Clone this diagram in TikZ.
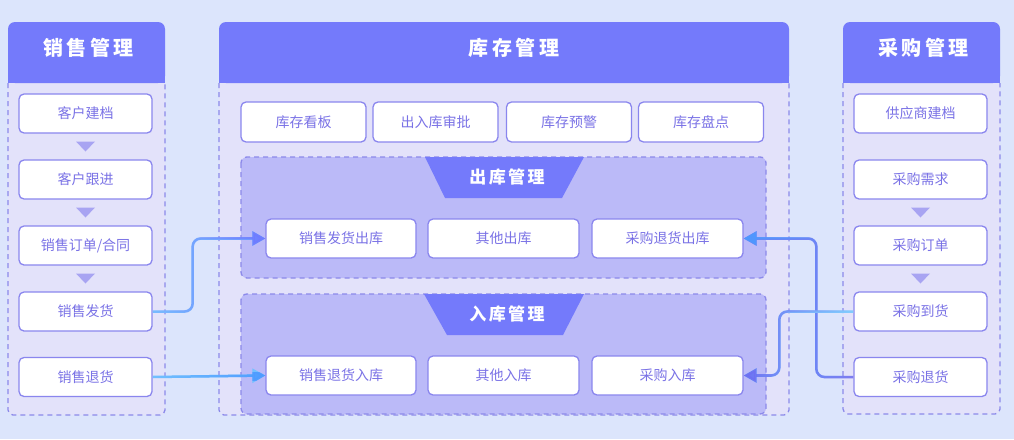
\documentclass[tikz,border=0pt]{standalone}
\usepackage{fontspec}
\newfontfamily\cjk{Noto Sans CJK SC}
\newfontfamily\cjkhead[LetterSpace=18]{Noto Sans CJK SC}
\newfontfamily\cjksub[LetterSpace=14]{Noto Sans CJK SC}
\usetikzlibrary{arrows.meta,calc,fadings}
\definecolor{bg}{HTML}{DCE5FC}
\definecolor{body}{HTML}{E3E2FA}
\definecolor{head}{HTML}{747AFB}
\definecolor{dash}{HTML}{8C8AEA}
\definecolor{subfill}{HTML}{BBBAF8}
\definecolor{boxline}{HTML}{8A86EE}
\definecolor{txt}{HTML}{7A72E6}
\definecolor{trifill}{HTML}{A8A4F2}
\definecolor{aOneS}{HTML}{78BCFF}
\definecolor{aOneE}{HTML}{6E7CFF}
\definecolor{aTwoS}{HTML}{72C0FF}
\definecolor{aTwoE}{HTML}{4F9CFF}
\definecolor{aThrS}{HTML}{7F7CF0}
\definecolor{aThrE}{HTML}{4E98FF}
\definecolor{aFouS}{HTML}{82CEFF}
\definecolor{aFouE}{HTML}{6D70F2}
\tikzfading[name=growE, left color=transparent!100, right color=transparent!0]
\tikzfading[name=growW, left color=transparent!0, right color=transparent!100]
\begin{document}
\begin{tikzpicture}[x=1pt,y=-1pt,
  box/.style={draw=boxline, line width=1.3pt, fill=white, rounded corners=5pt, minimum height=39pt, inner sep=0pt, text=txt, font=\cjk\fontsize{14}{16}\selectfont},
  headtxt/.style={text=white, inner sep=0pt, font=\cjkhead\bfseries\fontsize{20}{24}\selectfont},
  subtxt/.style={text=white, inner sep=0pt, font=\cjksub\bfseries\fontsize{17}{20}\selectfont},
  panel/.style={draw=dash, line width=1.3pt, dash pattern=on 5pt off 4pt},
  tri/.style={fill=trifill},
  conn/.style={line width=2.5pt, rounded corners=8pt, -{Triangle[length=13pt,width=14pt]}},
]
\fill[bg] (0,0) rectangle (1014,439);
\useasboundingbox (0,0) rectangle (1014,439);

% ---- left panel
\fill[body, rounded corners=5pt] (8,70) rectangle (165,415);
\draw[panel, rounded corners=5pt] (8,83) -- (8,415) -- (165,415) -- (165,83);
\fill[head, rounded corners=7pt] (8,22) rectangle (165,83);
\fill[head] (8,70) rectangle (165,83);
\node[headtxt] (hs) at (88.5,48) {销售管理};

% ---- middle panel
\fill[body, rounded corners=5pt] (219,70) rectangle (789,415);
\draw[panel, rounded corners=5pt] (219,83) -- (219,415) -- (789,415) -- (789,83);
\fill[head, rounded corners=7pt] (219,22) rectangle (789,83);
\fill[head] (219,70) rectangle (789,83);
\node[headtxt] (hm) at (514,48) {库存管理};

% ---- right panel
\fill[body, rounded corners=5pt] (843,70) rectangle (1000,414);
\draw[panel, rounded corners=5pt] (843,83) -- (843,414) -- (1000,414) -- (1000,83);
\fill[head, rounded corners=7pt] (843,22) rectangle (1000,83);
\fill[head] (843,70) rectangle (1000,83);
\node[headtxt] (hp) at (923.5,48) {采购管理};

% ---- sub panels
\fill[subfill, rounded corners=6pt] (241,157) rectangle (766,278);
\draw[panel, rounded corners=6pt] (241,157) rectangle (766,278);
\fill[head] (425,157) -- (584,157) -- (562,198) -- (445,198) -- cycle;
\node[subtxt] (ho) at (507,177) {出库管理};

\fill[subfill, rounded corners=6pt] (241,294) rectangle (766,414);
\draw[panel, rounded corners=6pt] (241,294) rectangle (766,414);
\fill[head] (424,294) -- (584,294) -- (563,335) -- (447,335) -- cycle;
\node[subtxt] (hi) at (507,314) {入库管理};

% ---- left boxes
\node[box, minimum width=133pt] (s1) at (85.5,113.5) {客户建档};
\node[box, minimum width=133pt] (s2) at (85.5,179.5) {客户跟进};
\node[box, minimum width=133pt] (s3) at (85.5,245.5) {销售订单/合同};
\node[box, minimum width=133pt] (s4) at (85.5,311.5) {销售发货};
\node[box, minimum width=133pt] (s5) at (85.5,377) {销售退货};

% ---- right boxes
\node[box, minimum width=133pt] (p1) at (920.5,113.5) {供应商建档};
\node[box, minimum width=133pt] (p2) at (920.5,179.5) {采购需求};
\node[box, minimum width=133pt] (p3) at (920.5,245.5) {采购订单};
\node[box, minimum width=133pt] (p4) at (920.5,311.5) {采购到货};
\node[box, minimum width=133pt] (p5) at (920.5,377) {采购退货};

% ---- top row
\node[box, minimum width=125pt, minimum height=40pt] (t1) at (303.5,122) {库存看板};
\node[box, minimum width=125pt, minimum height=40pt] (t2) at (435.5,122) {出入库审批};
\node[box, minimum width=125pt, minimum height=40pt] (t3) at (569,122) {库存预警};
\node[box, minimum width=125pt, minimum height=40pt] (t4) at (701,122) {库存盘点};

% ---- outbound row
\node[box, minimum width=150pt] (o1) at (341,238.5) {销售发货出库};
\node[box, minimum width=151pt] (o2) at (503.5,238.5) {其他出库};
\node[box, minimum width=151pt] (o3) at (667.5,238.5) {采购退货出库};

% ---- inbound row
\node[box, minimum width=150pt] (i1) at (341,375.5) {销售退货入库};
\node[box, minimum width=151pt] (i2) at (503.5,375.5) {其他入库};
\node[box, minimum width=151pt] (i3) at (667.5,375.5) {采购入库};

% ---- step triangles
\foreach \a/\b in {s1/s2,s2/s3,s3/s4,p2/p3,p3/p4}{
  \fill[tri] ($(\a.south)!0.5!(\b.north)$) ++(-9.5,-5) -- ++(19,0) -- ++(-9.5,10) -- cycle;
}

% ---- connectors
\draw[conn, draw=aOneS] (s4.east) -- ++(40,0) |- (o1.west);
\draw[conn, draw=aOneE, path fading=growE] (s4.east) -- ++(40,0) |- (o1.west);

\draw[conn, draw=aTwoS] (s5.east) -- (i1.west);
\draw[conn, draw=aTwoE, path fading=growE] (s5.east) -- (i1.west);

\draw[conn, draw=aThrS] (p5.west) -- ++(-37,0) |- (o3.east);
\draw[conn, draw=aThrE, path fading=growW] (p5.west) -- ++(-37,0) |- (o3.east);

\draw[conn, draw=aFouS] (p4.west) -- ++(-74,0) |- (i3.east);
\draw[conn, draw=aFouE, path fading=growW] (p4.west) -- ++(-74,0) |- (i3.east);
\end{tikzpicture}
\end{document}
